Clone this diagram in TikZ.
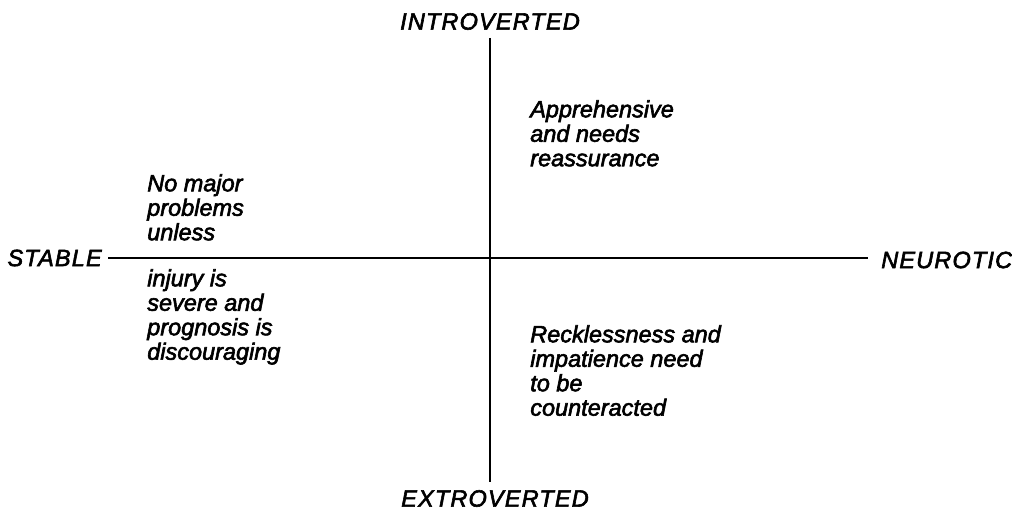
\documentclass[tikz,border=0pt]{standalone}
\usepackage{fontspec}
\setmainfont{Liberation Sans}[ItalicFeatures={FakeBold=2.5}]
\begin{document}
\begin{tikzpicture}[x=0.025cm,y=-0.025cm,
	every node/.style={font=\itshape\fontsize{16.7}{17.4}\selectfont,inner sep=0pt},
	axisname/.style={font=\itshape\fontsize{16.7}{17.4}\selectfont\addfontfeatures{LetterSpace=5}},
	quad/.style={anchor=north west,align=left}]
	\useasboundingbox (0,0) rectangle (1012,510);
	% ends of the two axes
	\coordinate (up) at (490,38);
	\coordinate (down) at (490,482);
	\coordinate (left) at (108,258);
	\coordinate (right) at (868,258);
	\draw[line width=1.8pt] (up)--(down);
	\draw[line width=1.5pt] (left)--(right);
	% axis names
	\node[axisname] (intro) at (490,21.5) {INTROVERTED};
	\node[axisname] (extro) at (495,498.5) {EXTROVERTED};
	\node[axisname,anchor=east] (stable) at (102,258) {STABLE};
	\node[axisname,anchor=west] (neuro) at (881,260) {NEUROTIC};
	% what each quarter needs
	\foreach \x/\y/\nm/\texn in {
		147/174/nomajor/{No major\\problems\\unless},
		147/269/injury/{injury is\\severe and\\prognosis is\\discouraging},
		530/100/appr/{Apprehensive\\and needs\\reassurance},
		530/325/reck/{Recklessness and\\impatience need\\to be\\counteracted}}
	\node[quad] (\nm) at (\x,\y) {\texn};
\end{tikzpicture}
\end{document}
